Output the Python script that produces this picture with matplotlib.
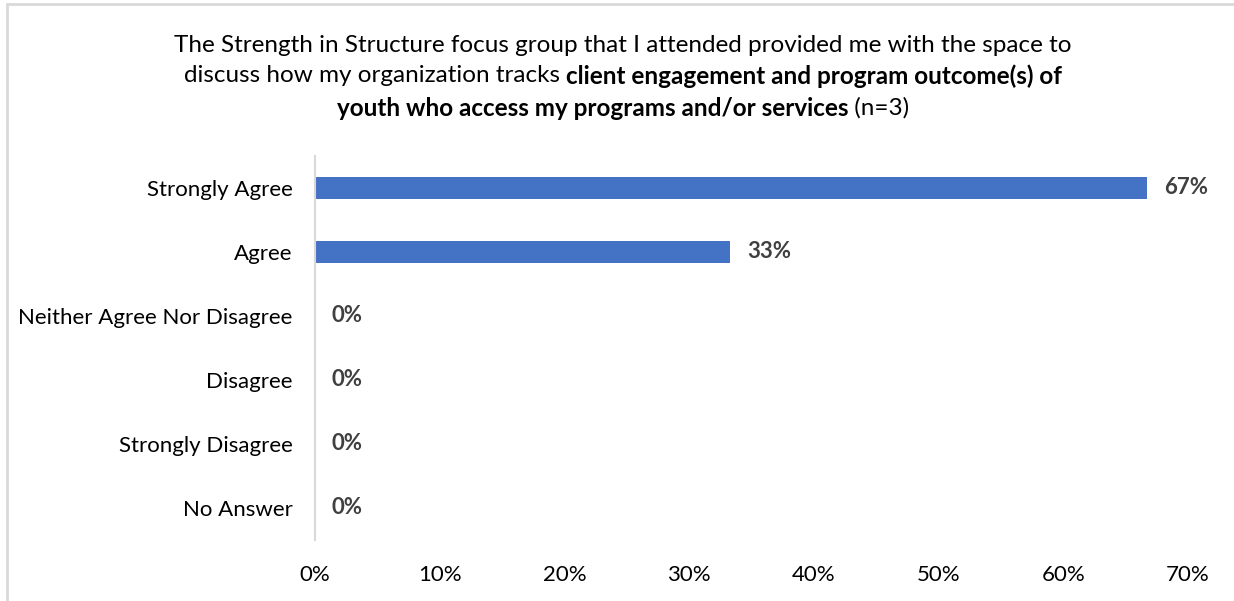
import matplotlib.pyplot as plt
from matplotlib.patches import Rectangle

# --- Survey data ---
categories = ["Strongly Agree", "Agree", "Neither Agree Nor Disagree",
              "Disagree", "Strongly Disagree", "No Answer"]
shares = [0.667, 0.333, 0.0, 0.0, 0.0, 0.0]
label_text = ["67%", "33%", "0%", "0%", "0%", "0%"]
x_ticks = [0.0, 0.1, 0.2, 0.3, 0.4, 0.5, 0.6, 0.7]
x_tick_labels = ["0%", "10%", "20%", "30%", "40%", "50%", "60%", "70%"]

# title lines, each a list of (text, is_bold) pieces
title_lines = [
    [("The Strength in Structure focus group that I attended provided me with the space to", False)],
    [("discuss how my organization tracks ", False),
     ("client engagement and program outcome(s) of", True)],
    [("youth who access my programs and/or services", True), (" (n=3)", False)],
]

BAR_COLOR = "#4472C4"
LABEL_COLOR = "#404040"
FONT = "Lato"
FS = 16
TITLE_FS = 17.5

plt.rcParams["font.family"] = [FONT, "DejaVu Sans"]

W, H = 1234, 601
fig = plt.figure(figsize=(W / 100, H / 100), dpi=100)
ax = fig.add_axes([315 / W, 1 - 540 / H, (1188 - 315) / W, (540 - 156) / H])

ypos = list(range(len(categories)))
ax.barh(ypos, shares, height=0.34, color=BAR_COLOR)
ax.set_ylim(len(categories) - 0.5, -0.5)
ax.set_xlim(0, 0.7)

for y, v, t in zip(ypos, shares, label_text):
    ax.text(v + 0.0135, y, t, va="center", ha="left", fontsize=FS,
            fontweight="bold", color=LABEL_COLOR)

ax.set_yticks(ypos)
ax.set_yticklabels(categories, fontsize=FS, color="black")
ax.set_xticks(x_ticks)
ax.set_xticklabels(x_tick_labels, fontsize=FS, color="black")
ax.tick_params(axis="both", length=0)
ax.tick_params(axis="y", pad=16)
ax.tick_params(axis="x", pad=18)
for side in ("top", "right", "bottom"):
    ax.spines[side].set_visible(False)
ax.spines["left"].set_color("#d9d9d9")
ax.spines["left"].set_linewidth(1.5)

# chart frame, runs past the right and bottom edges
fig.patches.append(Rectangle((7 / W, -0.1), 1.2, 1.1 - 4 / H, transform=fig.transFigure,
                             fill=False, edgecolor="#d9d9d9", linewidth=2))

# mixed-weight title, each line centred
fig.canvas.draw()
renderer = fig.canvas.get_renderer()
center_x = 623
line_y = [45, 76, 108]
for pieces, yy in zip(title_lines, line_y):
    widths = []
    for txt, bold in pieces:
        t = fig.text(0, 0, txt, fontsize=TITLE_FS, fontweight="bold" if bold else "normal")
        widths.append(t.get_window_extent(renderer).width)
        t.remove()
    x = center_x - sum(widths) / 2
    for (txt, bold), w in zip(pieces, widths):
        fig.text(x / W, 1 - yy / H, txt, fontsize=TITLE_FS, va="center", ha="left",
                 fontweight="bold" if bold else "normal")
        x += w

fig.savefig("out.png", dpi=100)
